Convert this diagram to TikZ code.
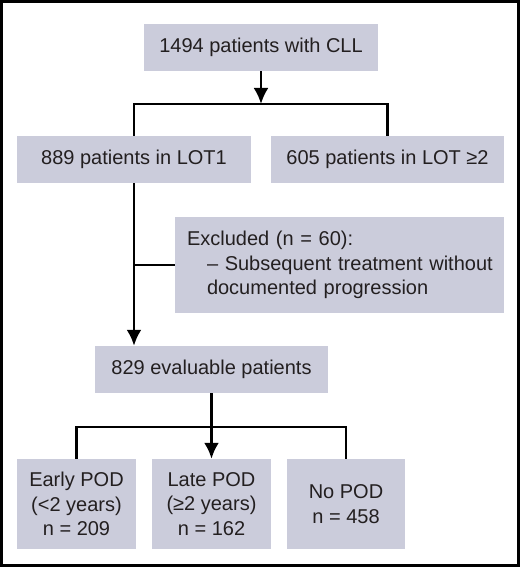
\documentclass[tikz,border=0pt]{standalone}
\usepackage{fontspec}
\setmainfont{Liberation Sans}
\usetikzlibrary{arrows.meta}
\definecolor{boxfill}{HTML}{CBCCDB}
\definecolor{inkc}{HTML}{231F20}
\begin{document}
\begin{tikzpicture}[x=1pt,y=-1pt,
  fbox/.style={fill=boxfill, draw=none, inner sep=0pt, text=inkc,
    font={\fontsize{20}{24.5}\selectfont}, align=center},
  conn/.style={line width=2.8pt, draw=black, line join=miter},
  arr/.style={conn, -{Latex[width=15pt,length=16pt]}}]
\useasboundingbox (0,0) rectangle (520,567);
\fill[white] (0,0) rectangle (520,567);
\draw[line width=3pt] (1.5,1.5) rectangle (518.5,565.5);

\node[fbox, minimum width=234pt, minimum height=47pt] (top) at (261,47.5) {1494 patients with CLL};
\node[fbox, minimum width=234pt, minimum height=47pt] (lot1) at (134,159.5) {889 patients in LOT1};
\node[fbox, minimum width=233pt, minimum height=47pt] (lot2) at (387.5,159.5) {605 patients in LOT ≥2};
\node[fbox, minimum width=329pt, minimum height=96pt, text width=305pt, align=left] (excl) at (339.5,265)
  {\mbox{Excluded (n = 60):}\\\mbox{\hspace*{20pt}– Subsequent treatment without}\\\mbox{\hspace*{20pt}documented progression}};
\node[fbox, minimum width=233pt, minimum height=47pt] (eval) at (211.5,369.5) {829 evaluable patients};
\node[fbox, minimum width=119pt, minimum height=90pt] (early) at (76.5,504) {Early POD\\(<2 years)\\n = 209};
\node[fbox, minimum width=119pt, minimum height=90pt] (late) at (211.5,504) {Late POD\\(≥2 years)\\n = 162};
\node[fbox, minimum width=118pt, minimum height=90pt] (nopod) at (346,504) {No POD\\n = 458};

\coordinate (j1) at (261,104);
\coordinate (j2) at (211.5,427);

\draw[arr] (top.south) -- (j1);
\draw[conn] (lot1.north) |- (j1) -| (lot2.north);
\draw[arr] (lot1.south) -- (lot1.south |- eval.north);
\draw[conn] (lot1.south |- excl.west) -- (excl.west);
\draw[arr] (eval.south) -- (late.north);
\draw[conn] (early.north) |- (j2) -| (nopod.north);
\end{tikzpicture}
\end{document}
